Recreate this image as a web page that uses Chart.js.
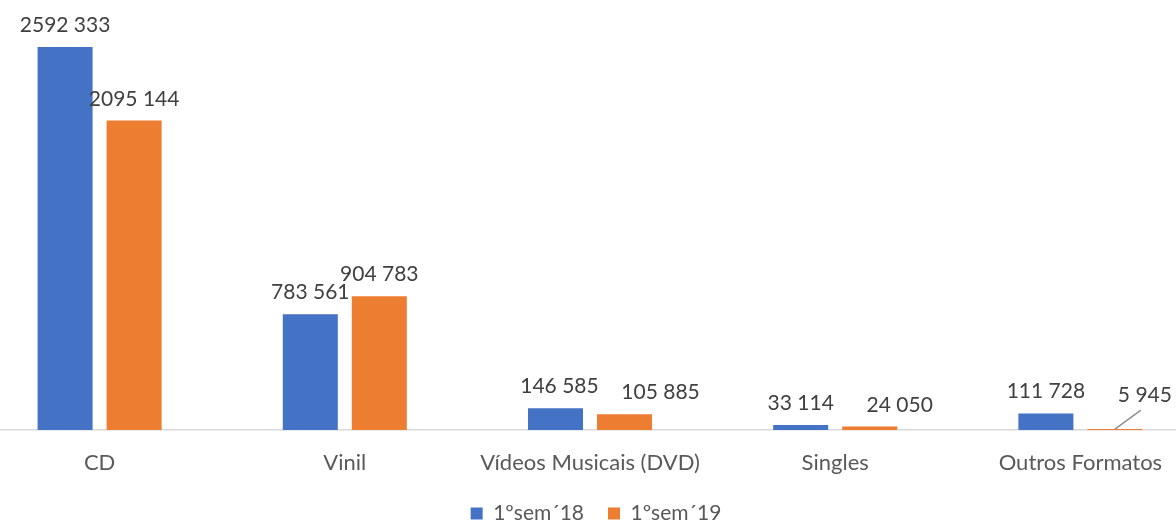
<!DOCTYPE html>
<html>
<head>
<meta charset="utf-8">
<script src="https://cdn.jsdelivr.net/npm/chart.js@4"></script>
<style>
  html, body { margin: 0; padding: 0; background: #fff; overflow: hidden; }
  #wrap { position: absolute; left: -23px; top: 0; width: 1226px; height: 525px; }
</style>
</head>
<body>
<div id="wrap"><canvas id="chart" width="1226" height="525"></canvas></div>
<script>
// categorias e valores
const categories = ['CD', 'Vinil', 'Vídeos Musicais (DVD)', 'Singles', 'Outros Formatos'];
const seriesNames = ['1ºsem´18', '1ºsem´19'];
const sem18 = [2592333, 783561, 146585, 33114, 111728];
const sem19 = [2095144, 904783, 105885, 24050, 5945];

const FONT = "Lato, 'Open Sans', sans-serif";

// formato "2592 333"
function fmt(v) {
    if (v < 1000) return String(v);
    const r = String(v % 1000).padStart(3, '0');
    return Math.floor(v / 1000) + ' ' + r;
}

// deslocamentos dos rótulos (como o Excel os arrumou)
const labelShift = {
    '0-2': [4, 0],
    '1-2': [36, 0],
    '1-3': [30, -1],
    '1-4': [30, 12]
};

const dataLabels = {
    id: 'dataLabels',
    afterLayout(chart) {
        // a legenda no original fica um pouco à direita
        const lg = chart.legend;
        if (lg) { lg.left += 6; lg.right += 6; lg.top += 2; lg.bottom += 2; }
    },
    afterDatasetsDraw(chart) {
        const ctx = chart.ctx;
        ctx.save();
        ctx.font = '21px ' + FONT;
        ctx.fillStyle = '#404040';
        ctx.textAlign = 'center';
        ctx.textBaseline = 'alphabetic';
        chart.data.datasets.forEach((ds, di) => {
            const meta = chart.getDatasetMeta(di);
            meta.data.forEach((bar, i) => {
                const s = labelShift[di + '-' + i] || [0, 0];
                const x = bar.x + s[0];
                const y = bar.y - 15 - s[1];
                ctx.fillText(fmt(ds.data[i]), x, y);
                // linha de chamada para o rótulo deslocado
                if (di === 1 && i === 4) {
                    ctx.strokeStyle = '#8c8c8c';
                    ctx.lineWidth = 1.3;
                    ctx.beginPath();
                    ctx.moveTo(bar.x, bar.y);
                    ctx.lineTo(bar.x + 26, bar.y - 19);
                    ctx.stroke();
                }
            });
        });
        ctx.restore();
    }
};

new Chart(document.getElementById('chart'), {
    type: 'bar',
    data: {
        labels: categories,
        datasets: [
            { label: seriesNames[0], data: sem18, backgroundColor: '#4472C4' },
            { label: seriesNames[1], data: sem19, backgroundColor: '#ED7D31' }
        ]
    },
    options: {
        responsive: false,
        animation: false,
        layout: { padding: { top: 0, left: 0, right: 0, bottom: -7 } },
        datasets: { bar: { categoryPercentage: 0.563, barPercentage: 0.797 } },
        scales: {
            x: {
                grid: { display: false },
                border: { display: true, color: '#d9d9d9', width: 1.5 },
                ticks: { color: '#595959', font: { family: FONT, size: 22 }, padding: 12, maxRotation: 0 },
                afterFit(scale) { scale.height = 47; }
            },
            y: { display: false, min: 0, max: 2911000 }
        },
        plugins: {
            legend: {
                position: 'bottom',
                labels: {
                    color: '#595959',
                    font: { family: FONT, size: 21 },
                    boxWidth: 12, boxHeight: 12, padding: 24
                }
            },
            tooltip: { enabled: false }
        }
    },
    plugins: [dataLabels]
});
</script>
</body>
</html>
